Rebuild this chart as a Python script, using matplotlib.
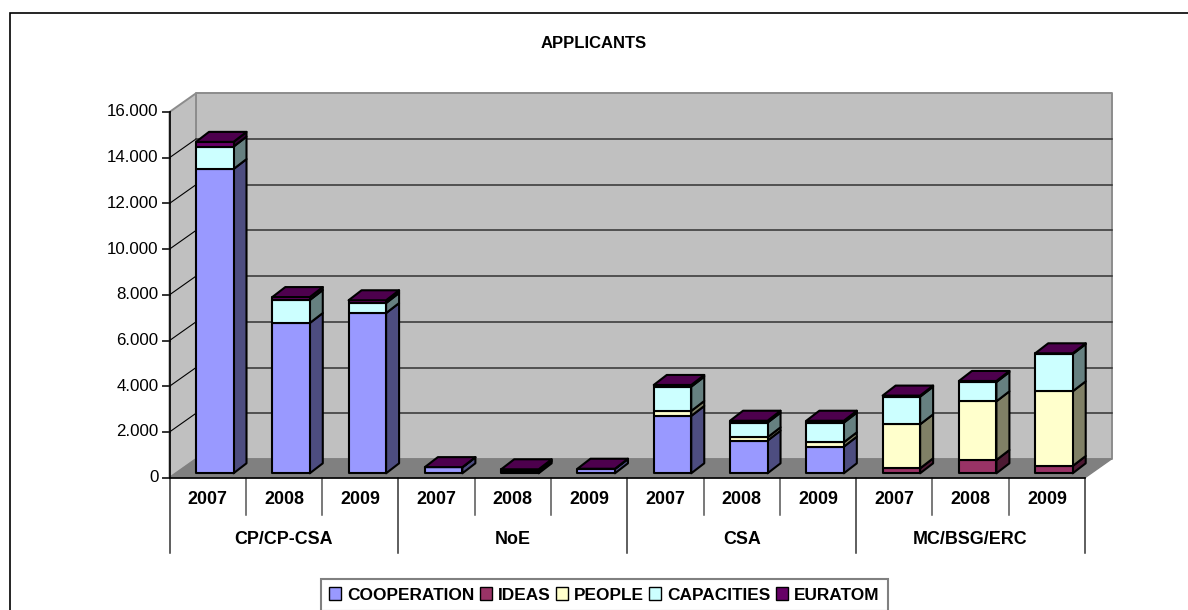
import matplotlib
matplotlib.use("Agg")
import matplotlib.pyplot as plt
from matplotlib.patches import Polygon, Rectangle
from matplotlib.colors import to_rgb

years = ["2007", "2008", "2009"] * 4
groups = ["CP/CP-CSA", "NoE", "CSA", "MC/BSG/ERC"]
y_ticks = [0, 2000, 4000, 6000, 8000, 10000, 12000, 14000, 16000]
y_labels = ["0", "2.000", "4.000", "6.000", "8.000", "10.000", "12.000", "14.000", "16.000"]

cooperation = [13310, 6575, 7010, 260, 100, 190, 2510, 1430, 1166, 0, 0, 0]
ideas = [0, 0, 0, 0, 0, 0, 0, 0, 0, 220, 583, 320]
people = [0, 0, 0, 0, 0, 0, 217, 145, 190, 1923, 2567, 3267]
capacities = [980, 1005, 440, 0, 0, 0, 1063, 641, 860, 1210, 843, 1630]
euratom = [210, 130, 120, 10, 75, 10, 75, 84, 84, 47, 47, 33]

series = [cooperation, ideas, people, capacities, euratom]
names = ["COOPERATION", "IDEAS", "PEOPLE", "CAPACITIES", "EURATOM"]
colors = ["#9999FF", "#993366", "#FFFFCC", "#CCFFFF", "#660066"]

W, H = 1188, 610
fig = plt.figure(figsize=(W / 100, H / 100), dpi=100, facecolor="white")
plt.rcParams["font.family"] = ["Liberation Sans", "DejaVu Sans"]

# outer chart frame, runs off the bottom and right of the picture
fig.add_artist(Rectangle((9.5 / W, -5 / H), (W + 20) / W, (H - 7.5) / H, transform=fig.transFigure,
                         fill=False, ec="black", lw=1.2))

# axes = front plane of the 3d box
left, right, top, bottom = 169.5, 1085, 112, 477.7
ax = fig.add_axes([left / W, 1 - bottom / H, (right - left) / W, (bottom - top) / H])
ax.set_xlim(0, 12)
ax.set_ylim(0, 16000)
ax.axis("off")

ux = (right - left) / 12
uy = (bottom - top) / 16000
DX = 26.5 / ux
DY = 18.7 / uy
BAR_X = 26.5 / ux
BAR_W = 37.5 / ux
BAR_DX = 13 / ux
BAR_DY = 10 / uy
BASE = 4.4 / uy


def shade(c, f):
    return tuple(v * f for v in to_rgb(c))


def poly(pts, fc, ec="black", lw=1.5, z=2):
    ax.add_patch(Polygon(pts, closed=True, fc=fc, ec=ec, lw=lw, zorder=z, clip_on=False, joinstyle="round"))


# walls and floor
poly([(DX, DY), (12 + DX, DY), (12 + DX, 16000 + DY), (DX, 16000 + DY)], "#C0C0C0", "#8C8C8C", 1.4, 1)
poly([(0, 0), (DX, DY), (DX, 16000 + DY), (0, 16000)], "#C0C0C0", "#8C8C8C", 1.4, 1)
poly([(0, 0), (12, 0), (12 + DX, DY), (DX, DY)], "#808080", "#808080", 1, 1)

for t in y_ticks[1:-1]:
    ax.plot([0, DX], [t, t + DY], color="black", lw=0.8, zorder=1.5, clip_on=False)
    ax.plot([DX, 12 + DX], [t + DY, t + DY], color="#333333", lw=1.1, zorder=1.5, clip_on=False)

ax.plot([0, 0], [0, 16000], color="black", lw=1.2, zorder=3, clip_on=False)
ax.plot([0, 12], [0, 0], color="black", lw=1.2, zorder=3, clip_on=False)

# ticks
for t, lab in zip(y_ticks, y_labels):
    ax.plot([-6.5 / ux, 0], [t, t], color="#333333", lw=1.4, clip_on=False)
    ax.text(-11 / ux, t, lab, ha="right", va="center", fontsize=12.2, color="black")

# stacked bars
for i in range(12):
    x0 = i + BAR_X
    x1 = x0 + BAR_W
    bot = BASE
    last = None
    for vals, c in zip(series, colors):
        v = vals[i]
        if v <= 0:
            continue
        t = bot + v
        poly([(x1, bot), (x1 + BAR_DX, bot + BAR_DY), (x1 + BAR_DX, t + BAR_DY), (x1, t)], shade(c, 0.5), z=4)
        poly([(x0, bot), (x1, bot), (x1, t), (x0, t)], c, z=4)
        bot = t
        last = c
    poly([(x0, bot), (x1, bot), (x1 + BAR_DX, bot + BAR_DY), (x0 + BAR_DX, bot + BAR_DY)], shade(last, 0.75), z=4)

# two level category axis
for i in range(13):
    low = -75.6 / uy if i % 3 == 0 else -37 / uy
    ax.plot([i, i], [0, low], color="#333333" if i % 3 == 0 else "#555555", lw=1.1, clip_on=False)
for i, y in enumerate(years):
    ax.text(i + 0.5, -22.3 / uy, y, ha="center", va="center", fontsize=12.9, fontweight="bold")
for i, g in enumerate(groups):
    ax.text(3 * i + 1.5, -62.3 / uy, g, ha="center", va="center", fontsize=12.9, fontweight="bold")

fig.text(594 / W, 1 - 43 / H, "APPLICANTS", ha="center", va="center", fontsize=12, fontweight="bold")

handles = [Rectangle((0, 0), 1, 1, fc=c, ec="black", lw=1) for c in colors]
leg = fig.legend(handles, names, loc="center", bbox_to_anchor=(604.3 / W, 1 - 595 / H), ncol=5,
                 frameon=True, fancybox=False, edgecolor="#808080", framealpha=1,
                 handlelength=0.7, handleheight=0.7, handletextpad=0.35, columnspacing=0.3,
                 borderpad=0.5, borderaxespad=0, prop={"weight": "bold", "size": 12.4})
leg.get_frame().set_linewidth(1.5)

fig.savefig("out.png", dpi=100)
plt.close(fig)
